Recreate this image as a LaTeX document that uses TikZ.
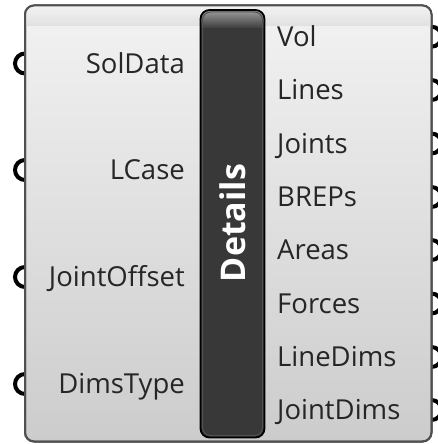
\documentclass[tikz,border=0pt]{standalone}
\usepackage{fontspec}
\setmainfont{Open Sans}
\begin{document}
\begin{tikzpicture}[x=1pt,y=-1pt,
  port/.style={circle,draw=black,line width=4pt,minimum size=20pt,inner sep=0pt},
  inlab/.style={anchor=east,inner sep=0pt,text height=19.5pt,text depth=0pt,font=\fontsize{27.5}{27.5}\selectfont,text=black!85},
  outlab/.style={anchor=west,inner sep=0pt,text height=19.5pt,text depth=0pt,font=\fontsize{27.5}{27.5}\selectfont,text=black!85}]
\useasboundingbox (0,0) rectangle (437,444);
\definecolor{bodyedge}{HTML}{505050}
% ports (drawn first, body covers half)
\foreach \i/\y in {1/63.5,2/170,3/277,4/384}{
  \node[port] (in\i) at (25,\y) {};
}
\foreach \i/\y in {1/36.7,2/90,3/143.5,4/197,5/250,6/303.5,7/357,8/410}{
  \node[port] (out\i) at (431.5,\y) {};
}
% body
\shade[rounded corners=9pt,top color=black!5,middle color=black!14,bottom color=black!20,draw=bodyedge,line width=2pt]
  (25,5.5) rectangle (431.5,441.5);
\begin{scope}
  \clip[rounded corners=9pt] (25,5.5) rectangle (431.5,441.5);
  \shade[top color=white!95!black,bottom color=black!12] (25,5.5) rectangle (431.5,26);
\end{scope}
\draw[rounded corners=9pt,draw=bodyedge,line width=2pt] (25,5.5) rectangle (431.5,441.5);
% center bar
\begin{scope}
  \clip[rounded corners=9pt] (200.5,10) rectangle (264.5,437.5);
  \fill[black!78] (200.5,10) rectangle (264.5,437.5);
  \shade[top color=black!38,bottom color=black!76] (200.5,10) rectangle (264.5,28);
\end{scope}
\draw[rounded corners=8pt,black!68,line width=1pt] (202.5,12) rectangle (262.5,435.5);
\draw[rounded corners=9pt,black,line width=1.8pt] (200.5,10) rectangle (264.5,437.5);
\node[rotate=90,text=white,font=\fontsize{34}{34}\selectfont\bfseries,inner sep=0pt] (title) at (233,223) {Details};
% labels
\node[inlab] (lSol) at (185,63.5) {SolData};
\node[inlab] (lLC) at (185,170) {LCase};
\node[inlab] (lJO) at (185,277) {JointOffset};
\node[inlab] (lDT) at (185,384) {DimsType};
\node[outlab] (oVol) at (277,36.7) {Vol};
\node[outlab] (oLin) at (277,90) {Lines};
\node[outlab] (oJoi) at (277,143.5) {Joints};
\node[outlab] (oBre) at (277,197) {BREPs};
\node[outlab] (oAre) at (277,250) {Areas};
\node[outlab] (oFor) at (277,303.5) {Forces};
\node[outlab] (oLD) at (277,357) {LineDims};
\node[outlab] (oJD) at (277,410) {JointDims};
\end{tikzpicture}
\end{document}
